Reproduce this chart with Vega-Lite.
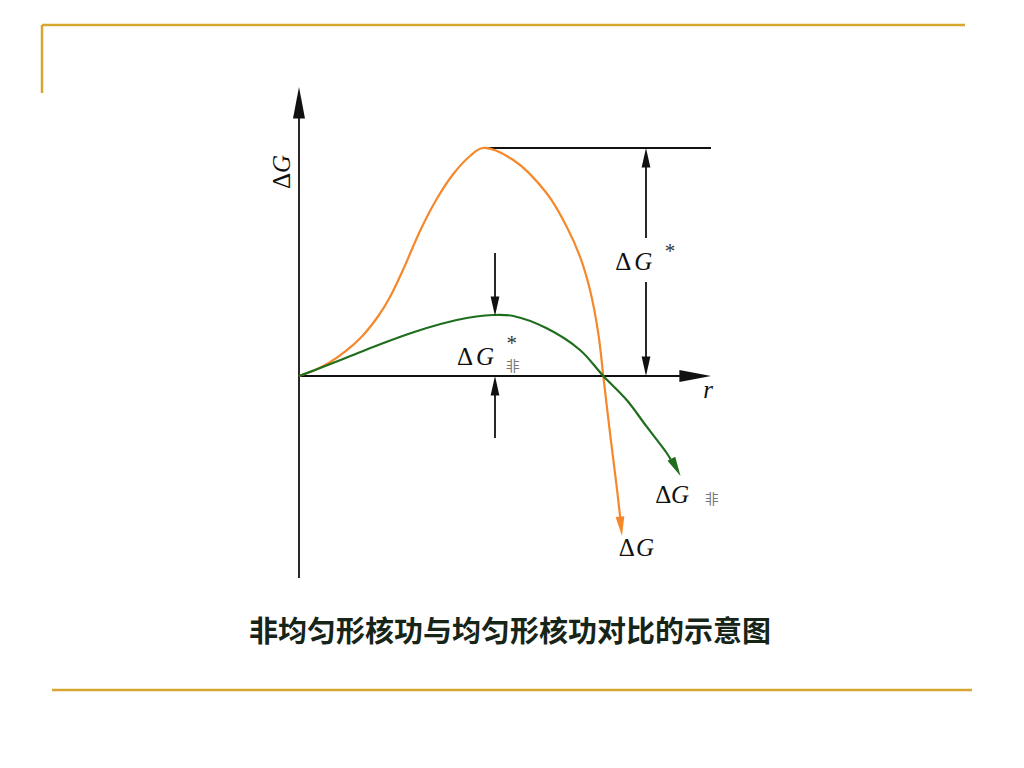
{
  "$schema": "https://vega.github.io/schema/vega-lite/v6.json",
  "autosize": {"type": "fit", "contains": "padding"},
  "width": 1024,
  "height": 768,
  "padding": 0,
  "background": "white",
  "view": {"stroke": null},
  "datasets": {
    "uniform": [
      {"r": 0, "g": 0}, {"r": 0.16, "g": 0.06}, {"r": 0.293, "g": 0.127},
      {"r": 0.46, "g": 0.243}, {"r": 0.627, "g": 0.393}, {"r": 0.793, "g": 0.6},
      {"r": 0.91, "g": 0.79}, {"r": 1.04, "g": 1.06}, {"r": 1.21, "g": 1.45},
      {"r": 1.377, "g": 1.77}, {"r": 1.543, "g": 2.02}, {"r": 1.71, "g": 2.2},
      {"r": 1.84, "g": 2.28}, {"r": 2.143, "g": 2.16}, {"r": 2.477, "g": 1.827},
      {"r": 2.677, "g": 1.493}, {"r": 2.81, "g": 1.193}, {"r": 2.91, "g": 0.86},
      {"r": 2.993, "g": 0.427}, {"r": 3.043, "g": 0}, {"r": 3.11, "g": -0.57},
      {"r": 3.177, "g": -1.107}, {"r": 3.215, "g": -1.44}
    ],
    "nonuniform": [
      {"r": 0, "g": 0}, {"r": 0.16, "g": 0.06}, {"r": 0.46, "g": 0.177},
      {"r": 0.793, "g": 0.31}, {"r": 1.16, "g": 0.443}, {"r": 1.577, "g": 0.56},
      {"r": 1.943, "g": 0.61}, {"r": 2.143, "g": 0.6}, {"r": 2.477, "g": 0.477},
      {"r": 2.81, "g": 0.26}, {"r": 3.043, "g": 0}, {"r": 3.277, "g": -0.24},
      {"r": 3.477, "g": -0.507}, {"r": 3.677, "g": -0.77}, {"r": 3.72, "g": -0.84}
    ],
    "blackLines": [
      {"r": 0, "g": -2.02, "r2": 0, "g2": 2.76},
      {"r": 0, "g": 0, "r2": 3.95, "g2": 0},
      {"r": 1.84, "g": 2.28, "r2": 4.12, "g2": 2.28},
      {"r": 3.47, "g": 2.2, "r2": 3.47, "g2": 1.38},
      {"r": 3.47, "g": 0.94, "r2": 3.47, "g2": 0.08},
      {"r": 1.96, "g": 1.23, "r2": 1.96, "g2": 0.68},
      {"r": 1.96, "g": -0.62, "r2": 1.96, "g2": -0.08}
    ],
    "frameLines": [
      {"r": -2.57, "g": 3.51, "r2": 6.66, "g2": 3.51},
      {"r": -2.57, "g": 3.51, "r2": -2.57, "g2": 2.83},
      {"r": -2.47, "g": -3.14, "r2": 6.73, "g2": -3.14}
    ],
    "bigHeads": [
      {"r": 0, "g": 2.89, "dir": 0},
      {"r": 4.12, "g": 0, "dir": 90}
    ],
    "smallHeads": [
      {"r": 3.47, "g": 2.28, "dir": 0, "series": "axis"},
      {"r": 3.47, "g": 0, "dir": 180, "series": "axis"},
      {"r": 1.96, "g": 0.6, "dir": 180, "series": "axis"},
      {"r": 1.96, "g": 0, "dir": 0, "series": "axis"},
      {"r": 3.23, "g": -1.6, "dir": 174, "series": "uniform"},
      {"r": 3.815, "g": -1.0, "dir": 152, "series": "nonuniform"}
    ],
    "labels": [
      {"r": 3.243, "g": 1.143, "text": "Δ", "role": "delta"},
      {"r": 3.443, "g": 1.143, "text": "G", "role": "var"},
      {"r": 3.71, "g": 1.24, "text": "*", "role": "star"},
      {"r": 1.66, "g": 0.193, "text": "Δ", "role": "delta"},
      {"r": 1.86, "g": 0.193, "text": "G", "role": "var"},
      {"r": 2.127, "g": 0.32, "text": "*", "role": "star"},
      {"r": 2.137, "g": 0.09, "text": "非", "role": "sub"},
      {"r": 3.643, "g": -1.19, "text": "Δ", "role": "delta"},
      {"r": 3.81, "g": -1.19, "text": "G", "role": "var"},
      {"r": 4.127, "g": -1.24, "text": "非", "role": "sub"},
      {"r": 3.277, "g": -1.723, "text": "Δ", "role": "delta"},
      {"r": 3.46, "g": -1.723, "text": "G", "role": "var"},
      {"r": 4.09, "g": -0.14, "text": "r", "role": "var"},
      {"r": -0.17, "g": 1.95, "text": "Δ", "role": "deltaV"},
      {"r": -0.17, "g": 2.12, "text": "G", "role": "varV"},
      {"r": 2.11, "g": -2.57, "text": "非均匀形核功与均匀形核功对比的示意图", "role": "title"}
    ]
  },
  "encoding": {
    "x": {"field": "r", "type": "quantitative", "axis": null,
          "scale": {"domain": [-2.99, 7.25], "nice": false, "zero": false}},
    "y": {"field": "g", "type": "quantitative", "axis": null,
          "scale": {"domain": [-3.92, 3.76], "nice": false, "zero": false}}
  },
  "layer": [
    {
      "data": {"name": "frameLines"},
      "mark": {"type": "rule", "color": "#D6A631", "strokeWidth": 2.5},
      "encoding": {"x2": {"field": "r2"}, "y2": {"field": "g2"}}
    },
    {
      "data": {"name": "blackLines"},
      "mark": {"type": "rule", "color": "#111111", "strokeWidth": 1.8},
      "encoding": {"x2": {"field": "r2"}, "y2": {"field": "g2"}}
    },
    {
      "data": {"name": "uniform"},
      "mark": {"type": "line", "color": "#F5882A", "strokeWidth": 2.2, "interpolate": "catmull-rom"},
      "encoding": {"order": {"field": "r", "type": "quantitative"}}
    },
    {
      "data": {"name": "nonuniform"},
      "mark": {"type": "line", "color": "#1E6E1E", "strokeWidth": 2.2, "interpolate": "catmull-rom"},
      "encoding": {"order": {"field": "r", "type": "quantitative"}}
    },
    {
      "data": {"name": "bigHeads"},
      "mark": {"type": "point", "shape": "M0,0L0.38,2L-0.38,2Z", "size": 1000, "filled": true, "color": "#111111", "opacity": 1},
      "encoding": {"angle": {"field": "dir", "type": "quantitative", "scale": null}}
    },
    {
      "data": {"name": "smallHeads"},
      "mark": {"type": "point", "shape": "M0,0L0.45,2L-0.45,2Z", "size": 380, "filled": true, "opacity": 1},
      "encoding": {
        "angle": {"field": "dir", "type": "quantitative", "scale": null},
        "color": {"field": "series", "type": "nominal", "legend": null,
                  "scale": {"domain": ["axis", "uniform", "nonuniform"], "range": ["#111111", "#F5882A", "#1E6E1E"]}}
      }
    },
    {
      "data": {"name": "labels"},
      "transform": [{"filter": "datum.role === 'delta'"}],
      "mark": {"type": "text", "font": "Liberation Serif", "fontSize": 25, "color": "#111111", "baseline": "middle", "align": "center"},
      "encoding": {"text": {"field": "text"}}
    },
    {
      "data": {"name": "labels"},
      "transform": [{"filter": "datum.role === 'var'"}],
      "mark": {"type": "text", "font": "Liberation Serif", "fontStyle": "italic", "fontSize": 25, "color": "#111111", "baseline": "middle", "align": "center"},
      "encoding": {"text": {"field": "text"}}
    },
    {
      "data": {"name": "labels"},
      "transform": [{"filter": "datum.role === 'deltaV'"}],
      "mark": {"type": "text", "font": "Liberation Serif", "fontSize": 25, "color": "#111111", "baseline": "middle", "align": "center", "angle": 270},
      "encoding": {"text": {"field": "text"}}
    },
    {
      "data": {"name": "labels"},
      "transform": [{"filter": "datum.role === 'varV'"}],
      "mark": {"type": "text", "font": "Liberation Serif", "fontStyle": "italic", "fontSize": 25, "color": "#111111", "baseline": "middle", "align": "center", "angle": 270},
      "encoding": {"text": {"field": "text"}}
    },
    {
      "data": {"name": "labels"},
      "transform": [{"filter": "datum.role === 'star'"}],
      "mark": {"type": "text", "font": "Liberation Serif", "fontSize": 21, "color": "#333333", "baseline": "middle", "align": "center"},
      "encoding": {"text": {"field": "text"}}
    },
    {
      "data": {"name": "labels"},
      "transform": [{"filter": "datum.role === 'sub'"}],
      "mark": {"type": "text", "font": "Noto Sans CJK SC", "fontSize": 14, "color": "#777777", "baseline": "middle", "align": "center"},
      "encoding": {"text": {"field": "text"}}
    },
    {
      "data": {"name": "labels"},
      "transform": [{"filter": "datum.role === 'title'"}],
      "mark": {"type": "text", "font": "Noto Sans CJK SC", "fontWeight": "bold", "fontSize": 29, "color": "#172518", "baseline": "middle", "align": "center"},
      "encoding": {"text": {"field": "text"}}
    }
  ]
}
